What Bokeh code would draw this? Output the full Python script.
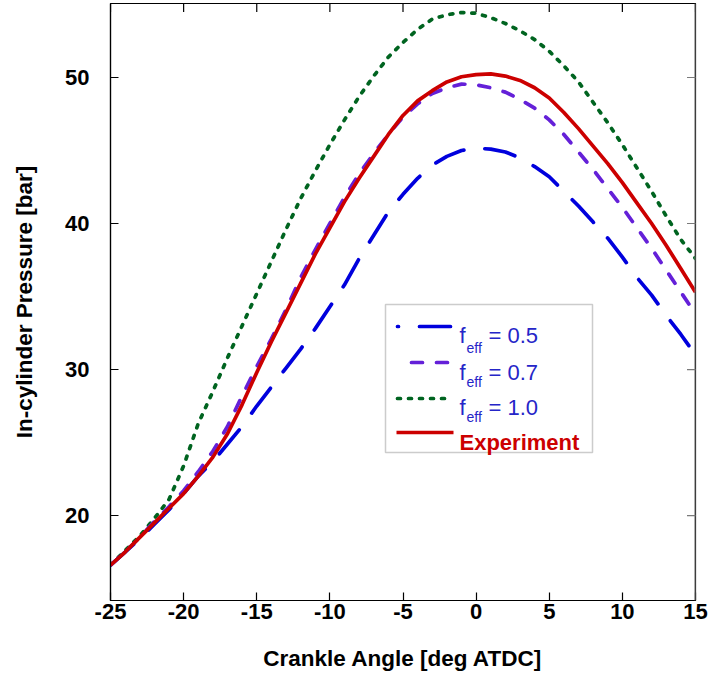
import math
from bokeh.plotting import figure
from bokeh.models import (Range1d, FixedTicker, BoxAnnotation, Label, Span,
                          Arrow, ColumnDataSource)
from bokeh.embed import file_html
from bokeh.resources import INLINE

# ---- data ----
angle = [-25, -24, -23, -22, -21, -20, -19, -18, -17, -16, -15, -14, -13, -12, -11,
         -10, -9, -8, -7, -6, -5, -4, -3, -2, -1, 0, 1, 2, 3, 4, 5, 6, 7, 8, 9,
         10, 11, 12, 13, 14, 15]
f05 = [16.6, 17.5, 18.4, 19.4, 20.4, 21.5, 22.7, 23.7, 24.9, 26.1,
       27.5, 28.8, 30.1, 31.4, 32.8, 34.3, 35.8, 37.6, 39.2, 40.8,
       42.0, 43.1, 44.0, 44.6, 45.0, 45.15, 45.1, 44.9, 44.5, 43.9,
       43.2, 42.2, 41.2, 40.1, 39.0, 37.7, 36.3, 35.1, 33.7, 32.4, 31.0]
f07 = [16.6, 17.5, 18.5, 19.6, 20.6, 21.7, 23.0, 24.4, 26.1, 28.2,
       30.2, 32.1, 34.1, 36.3, 38.2, 40.0, 41.8, 43.4, 44.8, 46.1,
       47.3, 48.2, 48.9, 49.3, 49.55, 49.5, 49.3, 49.0, 48.5, 47.9,
       47.1, 46.1, 44.9, 43.7, 42.4, 41.1, 39.7, 38.3, 36.8, 35.3, 33.8]
f10 = [16.6, 17.6, 18.6, 19.8, 21.1, 23.4, 26.3, 28.5, 30.8, 33.0,
       35.2, 37.4, 39.6, 41.7, 43.6, 45.4, 47.1, 48.7, 50.1, 51.4,
       52.4, 53.3, 54.0, 54.3, 54.45, 54.4, 54.1, 53.7, 53.2, 52.6,
       51.8, 50.8, 49.7, 48.3, 46.9, 45.4, 43.8, 42.2, 40.5, 38.9, 37.6]
experiment = [16.6, 17.5, 18.5, 19.5, 20.5, 21.5, 22.7, 24.0, 25.6, 27.6,
              29.8, 31.9, 33.9, 35.9, 37.9, 39.7, 41.5, 43.1, 44.6, 46.1,
              47.4, 48.4, 49.1, 49.7, 50.05, 50.2, 50.25, 50.1, 49.8, 49.3,
              48.6, 47.6, 46.5, 45.3, 44.1, 42.8, 41.4, 40.0, 38.5, 36.9, 35.3]
x_ticks = [-25, -20, -15, -10, -5, 0, 5, 10, 15]
y_ticks = [20, 30, 40, 50]
legend_labels = ["0.5", "0.7", "1.0"]

X0, X1 = -25, 15
Y0, Y1 = 14.18, 55.07

BLUE = "#0000DD"
PURPLE = "#6420D8"
GREEN = "#006420"
RED = "#CC0000"
TXT_BLUE = "#2525C8"
FONT = "Liberation Sans"

src = ColumnDataSource(dict(angle=angle, f05=f05, f07=f07, f10=f10, exp=experiment))

p = figure(width=709, height=675, x_range=Range1d(X0, X1), y_range=Range1d(Y0, Y1),
           output_backend="svg", toolbar_location=None,
           min_border_left=110, min_border_right=14, min_border_top=3, min_border_bottom=75)
p.xgrid.visible = False
p.ygrid.visible = False
p.outline_line_color = "black"
p.outline_line_width = 1.2
p.background_fill_color = "white"
p.border_fill_color = "white"

for ax in p.xaxis + p.yaxis:
    ax.major_tick_in = 8
    ax.major_tick_out = 0
    ax.minor_tick_in = 0
    ax.minor_tick_out = 0
    ax.axis_line_color = "black"
    ax.axis_line_width = 1.2
    ax.major_tick_line_color = "black"
    ax.major_tick_line_width = 1.2
    ax.major_label_text_font = FONT
    ax.major_label_text_font_style = "bold"
    ax.major_label_text_font_size = "22px"
    ax.major_label_text_color = "black"
    ax.axis_label_text_font = FONT
    ax.axis_label_text_font_style = "bold"
    ax.axis_label_text_font_size = "22.5px"
    ax.axis_label_text_color = "black"

p.xaxis.ticker = FixedTicker(ticks=x_ticks, minor_ticks=[])
p.yaxis.ticker = FixedTicker(ticks=y_ticks, minor_ticks=[])
p.xaxis.major_label_overrides = {t: str(t) for t in x_ticks}
p.xaxis.axis_label = "Crankle Angle [deg ATDC]"
p.xaxis.major_label_standoff = 3
p.xaxis.axis_label_standoff = 24
p.yaxis.axis_label = "In-cylinder Pressure [bar]"
p.yaxis.major_label_standoff = 21
p.yaxis.axis_label_standoff = 25

# right edge of the frame is grey in the reference
p.add_layout(Span(location=X1, dimension="height", line_color="#7a7a7a", line_width=2))

# inward ticks on the top and right edges of the frame
p.scatter(x=x_ticks, y=[Y1] * len(x_ticks), marker="dash", size=17, angle=math.pi / 2,
          line_color="black", line_width=1.2)
p.scatter(x=[X1] * len(y_ticks), y=y_ticks, marker="dash", size=17,
          line_color="#7a7a7a", line_width=1.2)

# ---- curves ----
p.line("angle", "f10", source=src, line_color=GREEN, line_width=3.7,
       line_dash="3 8", line_cap="round")
p.line("angle", "f05", source=src, line_color=BLUE, line_width=3.7,
       line_dash="31 21", line_cap="round")
p.line("angle", "f07", source=src, line_color=PURPLE, line_width=3.7,
       line_dash="11 14", line_cap="round")
p.line("angle", "exp", source=src, line_color=RED, line_width=3.7)

# ---- legend (frame-relative screen units) ----
p.add_layout(BoxAnnotation(left=275, right=482, bottom=148, top=296,
                           left_units="screen", right_units="screen",
                           bottom_units="screen", top_units="screen",
                           fill_color="white", fill_alpha=1.0,
                           line_color="#555555", line_width=1.5))

rows_y = [274, 238, 202, 168]
base_f = [265, 228.5, 193.5]
base_eff = [253, 219, 184]
styles = [(BLUE, "31 21", 30), (PURPLE, "11 14", 11), (GREEN, "3 8", 0)]
for (col, dash, off), yy in zip(styles, rows_y[:3]):
    p.add_layout(Arrow(x_start=287, y_start=yy, x_end=342, y_end=yy,
                       start_units="screen", end_units="screen", start=None, end=None,
                       line_color=col, line_width=3.7, line_dash=dash,
                       line_dash_offset=off, line_cap="round"))
p.add_layout(Arrow(x_start=286, y_start=rows_y[3], x_end=343, y_end=rows_y[3],
                   start_units="screen", end_units="screen", start=None, end=None,
                   line_color=RED, line_width=3.7))

for lab, bf, be in zip(legend_labels, base_f, base_eff):
    p.add_layout(Label(x=349, y=bf, x_units="screen", y_units="screen", text="f",
                       text_font=FONT, text_font_size="22px", text_color=TXT_BLUE,
                       text_baseline="alphabetic"))
    p.add_layout(Label(x=356, y=be, x_units="screen", y_units="screen", text="eff",
                       text_font=FONT, text_font_size="14px", text_color=TXT_BLUE,
                       text_baseline="alphabetic"))
    p.add_layout(Label(x=378, y=bf, x_units="screen", y_units="screen", text="= " + lab,
                       text_font=FONT, text_font_size="22px", text_color=TXT_BLUE,
                       text_baseline="alphabetic"))
p.add_layout(Label(x=349, y=158.5, x_units="screen", y_units="screen",
                   text="Experiment", text_font=FONT, text_font_size="22px",
                   text_font_style="bold", text_color=RED, text_baseline="alphabetic"))

open("out.html", "w").write(file_html(p, INLINE))
